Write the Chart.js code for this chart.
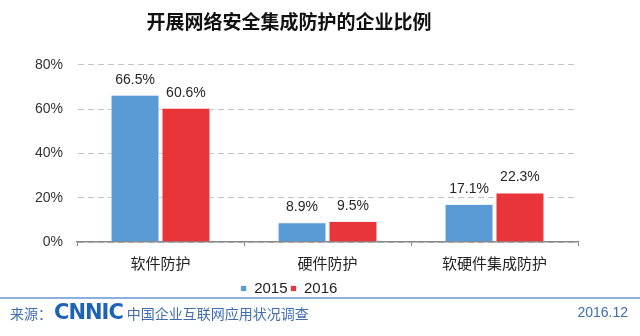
<!DOCTYPE html>
<html>
<head>
<meta charset="utf-8">
<script src="https://cdn.jsdelivr.net/npm/chart.js@4.4.0/dist/chart.umd.min.js"></script>
<style>
  body { margin: 0; background: #fff; width: 640px; height: 336px; overflow: hidden;
         font-family: 'Liberation Sans', 'Noto Sans CJK SC', sans-serif; }
  #wrap { position: absolute; left: 0; top: 0; width: 640px; height: 306px; }
  #footer { position: absolute; left: 0; top: 297px; width: 640px; height: 37px;
            border-top: 2px solid #8eaede; color: #3f6db0; }
  #footer .src { position: absolute; left: 10px; top: 3px; font-size: 14px; line-height: 20px; }
  #footer .logo { font-family: 'DejaVu Sans', sans-serif; font-weight: bold; font-size: 21px;
                  color: #1f63b8; letter-spacing: -1px; margin: 0 4px 0 2px; }
  #footer .date { position: absolute; right: 12px; top: 3px; font-size: 14px; line-height: 20px; }
</style>
</head>
<body>
<div id="wrap"><canvas id="chart"></canvas></div>
<div id="footer">
  <div class="src">来源：<span class="logo">CNNIC</span>中国企业互联网应用状况调查</div>
  <div class="date">2016.12</div>
</div>
<script>
// Chart data
const categories = ['软件防护', '硬件防护', '软硬件集成防护'];
const seriesNames = ['2015', '2016'];
const values2015 = [66.5, 8.9, 17.1];
const values2016 = [60.6, 9.5, 22.3];
const yTicks = [0, 20, 40, 60, 80];

const blue = '#5b9bd5';
const red = '#e9353a';

// Draw value labels above each bar
const valueLabels = {
    id: 'valueLabels',
    afterDatasetsDraw(chart) {
        const ctx = chart.ctx;
        ctx.save();
        ctx.font = '14px "Liberation Sans", sans-serif';
        ctx.fillStyle = '#262626';
        ctx.textAlign = 'center';
        ctx.textBaseline = 'bottom';
        chart.data.datasets.forEach((ds, i) => {
            chart.getDatasetMeta(i).data.forEach((bar, j) => {
                ctx.fillText(ds.data[j].toFixed(1) + '%', bar.x, bar.y - 8);
            });
        });
        ctx.restore();
    }
};

new Chart(document.getElementById('chart'), {
    type: 'bar',
    data: {
        labels: categories,
        datasets: [
            { label: seriesNames[0], data: values2015, backgroundColor: blue,
              borderColor: '#eef3f9', borderWidth: 1, barPercentage: 0.96, categoryPercentage: 0.61 },
            { label: seriesNames[1], data: values2016, backgroundColor: red,
              borderColor: '#f6eeee', borderWidth: 1, barPercentage: 0.96, categoryPercentage: 0.61 }
        ]
    },
    options: {
        responsive: true,
        maintainAspectRatio: false,
        animation: false,
        layout: { padding: { left: 0, right: 62, top: 0, bottom: 0 } },
        plugins: {
            title: {
                display: true,
                text: '开展网络安全集成防护的企业比例',
                color: '#111',
                font: { family: 'Noto Sans CJK SC', size: 19, weight: 'bold' },
                padding: { top: 10, bottom: 32 }
            },
            legend: {
                position: 'bottom',
                labels: {
                    color: '#222',
                    boxWidth: 6, boxHeight: 6,
                    padding: 3,
                    font: { family: 'Liberation Sans', size: 15 }
                }
            },
            tooltip: { enabled: false }
        },
        scales: {
            x: {
                grid: { display: true, drawOnChartArea: false, offset: true,
                        tickLength: 4, color: '#888' },
                border: { color: '#888', width: 1.5 },
                ticks: { color: '#222', padding: 8,
                         font: { family: 'Noto Sans CJK SC', size: 15 } },
                afterFit(scale) { scale.height = 36; }
            },
            y: {
                min: 0, max: 80,
                afterBuildTicks(scale) { scale.ticks = yTicks.map(v => ({ value: v })); },
                grid: { color: '#c4c4c4', drawTicks: false },
                border: { display: true, color: 'rgba(0,0,0,0)', dash: [6, 4] },
                ticks: { color: '#333', padding: 14,
                         font: { family: 'Liberation Sans', size: 14 },
                         callback: v => v + '%' },
                afterFit(scale) { scale.width = 77; }
            }
        }
    },
    plugins: [valueLabels]
});
</script>
</body>
</html>
